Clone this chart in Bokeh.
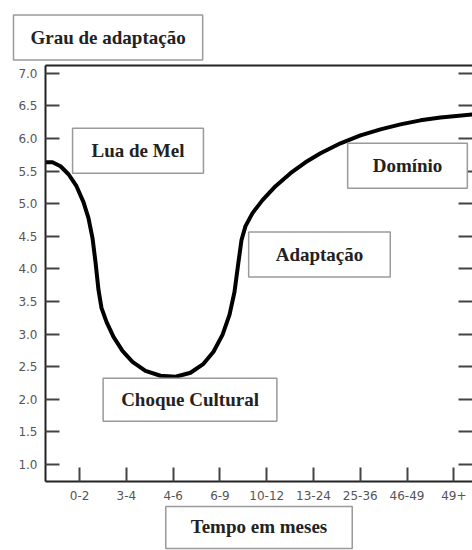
from bokeh.plotting import figure
from bokeh.models import LinearAxis, FixedTicker, Label, Range1d, CustomJSTickFormatter, Title
from bokeh.embed import file_html
from bokeh.resources import INLINE

# ---- data ----
tick_positions = [1, 2, 3, 4, 5, 6, 7, 8, 9]
tick_labels = ["0-2", "3-4", "4-6", "6-9", "10-12", "13-24", "25-36", "46-49", "49+"]
y_ticks = [1.0, 1.5, 2.0, 2.5, 3.0, 3.5, 4.0, 4.5, 5.0, 5.5, 6.0, 6.5, 7.0]

curve_x = [0.270, 0.420, 0.591, 0.762, 0.933, 1.082, 1.189, 1.275, 1.339, 1.403,
           1.467, 1.574, 1.724, 1.916, 2.130, 2.408, 2.729, 3.050, 3.370, 3.648,
           3.862, 4.054, 4.204, 4.311, 4.396, 4.461, 4.546, 4.696, 4.910, 5.188,
           5.508, 5.829, 6.150, 6.577, 7.005, 7.433, 7.860, 8.288, 8.716, 9.400]
curve_y = [5.636, 5.636, 5.575, 5.452, 5.269, 5.024, 4.779, 4.473, 4.106, 3.678,
           3.402, 3.188, 2.958, 2.744, 2.576, 2.438, 2.362, 2.347, 2.408, 2.545,
           2.729, 2.989, 3.295, 3.647, 4.106, 4.443, 4.657, 4.856, 5.055, 5.269,
           5.468, 5.636, 5.774, 5.927, 6.049, 6.141, 6.217, 6.279, 6.324, 6.370]

title_text = "Grau de adaptação"
xlabel_text = "Tempo em meses"
phase_names = ["Lua de Mel", "Choque Cultural", "Adaptação", "Domínio"]

BOX_FONT = "Liberation Serif"
BOX_SIZE = "19px"
BOX_LINE = "#9a9a9a"

p = figure(width=472, height=550, output_backend="svg", toolbar_location=None,
           x_range=Range1d(0.27, 9.40), y_range=Range1d(0.74, 7.12),
           min_border_left=45, min_border_right=0, min_border_top=65, min_border_bottom=68,
           x_axis_type=None, y_axis_type=None)
p.outline_line_color = None
p.xgrid.visible = False
p.ygrid.visible = False
p.background_fill_color = "white"
p.border_fill_color = "white"

blank = CustomJSTickFormatter(code="return '';")

def style_axis(ax, labels=True):
    ax.axis_line_color = "#222222"
    ax.axis_line_width = 2
    ax.major_tick_line_color = "#444444"
    ax.major_tick_line_width = 2
    ax.major_tick_in = 14
    ax.major_tick_out = 0
    ax.minor_tick_line_color = None
    if labels:
        ax.major_label_text_font = "DejaVu Sans"
        ax.major_label_text_font_size = "12px"
        ax.major_label_text_color = "#555555"
    else:
        ax.formatter = blank
        ax.major_label_standoff = 0

xaxis = LinearAxis(ticker=FixedTicker(ticks=tick_positions))
style_axis(xaxis)
xaxis.major_label_overrides = {k: v for k, v in zip(tick_positions, tick_labels)}
xaxis.major_label_standoff = 9
p.add_layout(xaxis, "below")

yaxis = LinearAxis(ticker=FixedTicker(ticks=y_ticks))
style_axis(yaxis)
yaxis.formatter = CustomJSTickFormatter(code="return tick.toFixed(1);")
yaxis.major_label_standoff = 8
p.add_layout(yaxis, "left")

top = LinearAxis(ticker=FixedTicker(ticks=tick_positions))
style_axis(top, labels=False)
top.major_tick_in = 0
top.major_tick_line_color = None
p.add_layout(top, "above")

right = LinearAxis(ticker=FixedTicker(ticks=y_ticks))
style_axis(right, labels=False)
right.axis_line_color = None
p.add_layout(right, "right")

p.line(curve_x, curve_y, line_color="black", line_width=4, line_join="round", line_cap="round")

# title box (outside the frame, above)
t_top = Title(text=title_text, align="left", offset=-32, standoff=11,
              text_font=BOX_FONT, text_font_style="bold", text_font_size=BOX_SIZE,
              text_color="#222222", border_line_color=BOX_LINE, border_line_width=1.5,
              background_fill_color="white",
              padding=dict(left=17, right=17, top=12, bottom=12))
p.add_layout(t_top, "above")

# x axis label box (outside the frame, below)
t_bot = Title(text=xlabel_text, align="center", offset=-5, standoff=4,
              text_font=BOX_FONT, text_font_style="bold", text_font_size=BOX_SIZE,
              text_color="#222222", border_line_color=BOX_LINE, border_line_width=1.5,
              background_fill_color="white",
              padding=dict(left=25, right=25, top=9, bottom=12))
p.add_layout(t_bot, "below")

def box_label(x, y, text, pad_x, pad_y):
    lab = Label(x=x, y=y, text=text, text_align="center", text_baseline="middle",
                text_font=BOX_FONT, text_font_style="bold", text_font_size=BOX_SIZE,
                text_color="#222222",
                border_line_color=BOX_LINE, border_line_width=1.5,
                background_fill_color="white",
                padding=dict(left=pad_x, right=pad_x, top=pad_y, bottom=pad_y))
    p.add_layout(lab)

box_label(2.248, 5.812, phase_names[0], 19, 12)
box_label(3.360, 1.995, phase_names[1], 18, 11)
box_label(6.128, 4.221, phase_names[2], 27, 12)
box_label(8.010, 5.582, phase_names[3], 25, 12)

open("out.html", "w").write(file_html(p, INLINE))
